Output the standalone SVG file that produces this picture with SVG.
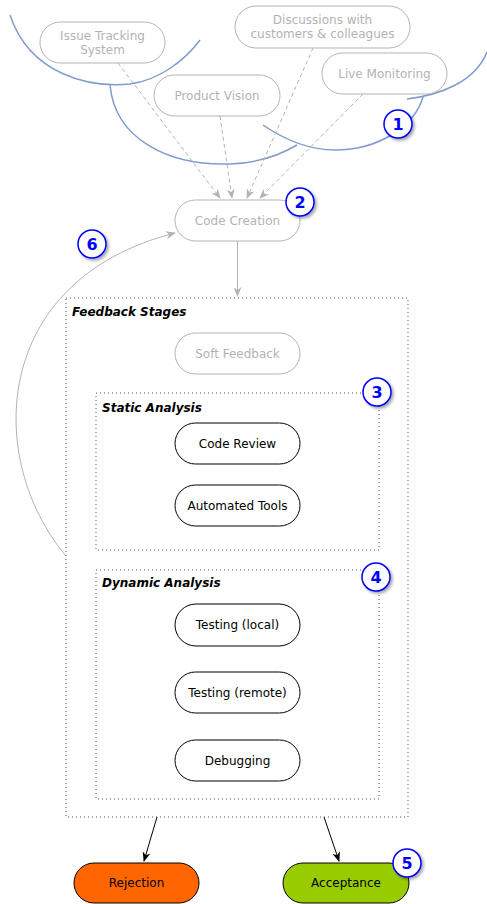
<svg xmlns="http://www.w3.org/2000/svg" width="487" height="904" viewBox="0 0 487 904">
<defs>
<style>
.arc{fill:none;stroke:#7f9ccc;stroke-width:1.5}
.gnode{fill:#fff;stroke:#b3b3b3;stroke-width:1}
.gtxt{fill:#b3b3b3;font-family:"DejaVu Sans",sans-serif;font-size:12px;text-anchor:middle}
.bnode{fill:#fff;stroke:#000;stroke-width:1}
.btxt{fill:#000;font-family:"DejaVu Sans",sans-serif;font-size:12px;text-anchor:middle}
.grp{fill:none;stroke:#555;stroke-width:1;stroke-dasharray:1 3}
.glbl{fill:#000;font-family:"DejaVu Sans",sans-serif;font-size:12px;font-weight:bold;font-style:italic}
.badge circle{fill:#fff;stroke:#0000ff;stroke-width:1.5}
.badge text{fill:#0000ff;font-family:"DejaVu Sans",sans-serif;font-size:16px;font-weight:bold;text-anchor:middle}
.gline{fill:none;stroke:#b3b3b3;stroke-width:1}
.kline{fill:none;stroke:#000;stroke-width:1}
</style>
<marker id="ga" viewBox="0 0 10 8" refX="9" refY="4" markerWidth="10" markerHeight="8" markerUnits="userSpaceOnUse" orient="auto">
<path d="M0,0 L10,4 L0,8 L3,4 z" fill="#b3b3b3"/>
</marker>
<marker id="ka" viewBox="0 0 10 8" refX="9" refY="4" markerWidth="10" markerHeight="8" markerUnits="userSpaceOnUse" orient="auto">
<path d="M0,0 L10,4 L0,8 L3,4 z" fill="#000"/>
</marker>
<filter id="sh" x="-50%" y="-50%" width="200%" height="200%">
<feGaussianBlur in="SourceAlpha" stdDeviation="1.5"/>
<feOffset dx="2" dy="2" result="b"/>
<feComponentTransfer><feFuncA type="linear" slope="0.35"/></feComponentTransfer>
<feMerge><feMergeNode/><feMergeNode in="SourceGraphic"/></feMerge>
</filter>
</defs>
<rect width="487" height="904" fill="#fff"/>

<g id="arcs">
<path class="arc" d="M10,15 C30,75 90,88 130,84 C160,80 185,60 200,40"/>
<path class="arc" d="M110,85 C115,140 170,166 230,164 C260,163 280,155 297,145"/>
<path class="arc" d="M263,125 C285,140 310,150 335,150 C380,150 415,125 423,97"/>
<path class="arc" d="M407,99 C440,95 475,82 487,52"/>
</g>

<g id="connectors">
<path class="gline" stroke-dasharray="4 3" d="M118,63 L220,198" marker-end="url(#ga)"/>
<path class="gline" stroke-dasharray="4 3" d="M220,116 L232,198" marker-end="url(#ga)"/>
<path class="gline" stroke-dasharray="4 3" d="M313,48 L247,198" marker-end="url(#ga)"/>
<path class="gline" stroke-dasharray="4 3" d="M363,94 L260,198" marker-end="url(#ga)"/>
<path class="gline" d="M237.5,241 L237.5,296" marker-end="url(#ga)"/>
<path class="gline" d="M66,556 C-15,460 -10,280 175,233" marker-end="url(#ga)"/>
<path class="kline" d="M157,817 L144,861" marker-end="url(#ka)"/>
<path class="kline" d="M324,817 L339,861" marker-end="url(#ka)"/>
</g>

<g id="issue-tracking">
<rect class="gnode" x="40" y="22" width="125" height="41" rx="20.5"/>
<text class="gtxt" x="102.5" y="40">Issue Tracking</text>
<text class="gtxt" x="102.5" y="54">System</text>
</g>
<g id="discussions">
<rect class="gnode" x="235" y="6" width="175" height="42" rx="21"/>
<text class="gtxt" x="322.5" y="24">Discussions with</text>
<text class="gtxt" x="322.5" y="38">customers &amp; colleagues</text>
</g>
<g id="live-monitoring">
<rect class="gnode" x="322" y="53" width="125" height="41" rx="20.5"/>
<text class="gtxt" x="384.5" y="78">Live Monitoring</text>
</g>
<g id="product-vision">
<rect class="gnode" x="154" y="75" width="126" height="41" rx="20.5"/>
<text class="gtxt" x="217" y="100">Product Vision</text>
</g>
<g id="code-creation">
<rect class="gnode" x="175" y="200" width="125" height="41" rx="20.5"/>
<text class="gtxt" x="237.5" y="225">Code Creation</text>
</g>

<g id="feedback-stages">
<rect class="grp" x="66" y="298" width="342" height="519"/>
<text class="glbl" x="72" y="316">Feedback Stages</text>
</g>
<g id="soft-feedback">
<rect class="gnode" x="175" y="333" width="125" height="41" rx="20.5"/>
<text class="gtxt" x="237.5" y="358">Soft Feedback</text>
</g>
<g id="static-analysis">
<rect class="grp" x="96" y="393" width="283" height="157"/>
<text class="glbl" x="102" y="412">Static Analysis</text>
</g>
<g id="code-review">
<rect class="bnode" x="175" y="423" width="125" height="41" rx="20.5"/>
<text class="btxt" x="237.5" y="448">Code Review</text>
</g>
<g id="automated-tools">
<rect class="bnode" x="175" y="485" width="125" height="41" rx="20.5"/>
<text class="btxt" x="237.5" y="510">Automated Tools</text>
</g>
<g id="dynamic-analysis">
<rect class="grp" x="96" y="570" width="283" height="229"/>
<text class="glbl" x="102" y="587">Dynamic Analysis</text>
</g>
<g id="testing-local">
<rect class="bnode" x="175" y="604" width="125" height="42" rx="21"/>
<text class="btxt" x="237.5" y="629">Testing (local)</text>
</g>
<g id="testing-remote">
<rect class="bnode" x="175" y="672" width="125" height="41" rx="20.5"/>
<text class="btxt" x="237.5" y="697">Testing (remote)</text>
</g>
<g id="debugging">
<rect class="bnode" x="175" y="740" width="125" height="41" rx="20.5"/>
<text class="btxt" x="237.5" y="765">Debugging</text>
</g>
<g id="rejection">
<rect x="74" y="863" width="125" height="40" rx="20" fill="#ff6600" stroke="#000"/>
<text class="btxt" x="136.5" y="887">Rejection</text>
</g>
<g id="acceptance">
<rect x="283" y="863" width="126" height="40" rx="20" fill="#99cc00" stroke="#000"/>
<text class="btxt" x="346" y="887">Acceptance</text>
</g>

<g id="badge-1" class="badge"><circle cx="398" cy="124" r="14" filter="url(#sh)"/><text x="398" y="130">1</text></g>
<g id="badge-2" class="badge"><circle cx="300" cy="202" r="14" filter="url(#sh)"/><text x="300" y="208">2</text></g>
<g id="badge-3" class="badge"><circle cx="377" cy="392" r="14" filter="url(#sh)"/><text x="377" y="398">3</text></g>
<g id="badge-4" class="badge"><circle cx="376" cy="577" r="14" filter="url(#sh)"/><text x="376" y="583">4</text></g>
<g id="badge-5" class="badge"><circle cx="407" cy="863" r="14" filter="url(#sh)"/><text x="407" y="869">5</text></g>
<g id="badge-6" class="badge"><circle cx="92" cy="244" r="14" filter="url(#sh)"/><text x="92" y="250">6</text></g>
</svg>
